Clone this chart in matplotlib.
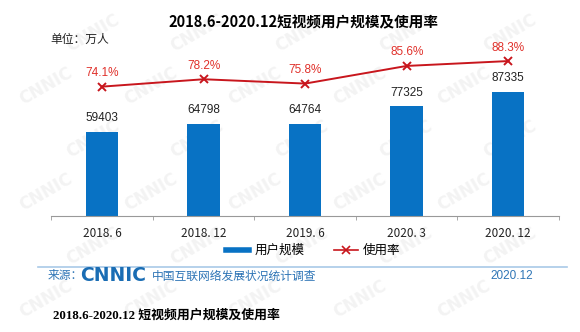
import matplotlib
matplotlib.use('Agg')
import matplotlib.pyplot as plt
from matplotlib.lines import Line2D

plt.rcParams['font.family'] = ['Noto Sans CJK SC', 'DejaVu Sans']

# --- data ---
periods = ['2018. 6', '2018. 12', '2019. 6', '2020. 3', '2020. 12']
users = [59403, 64798, 64764, 77325, 87335]          # 万人
usage_rate = [74.1, 78.2, 75.8, 85.6, 88.3]          # %

title = '2018.6-2020.12短视频用户规模及使用率'
bar_color = '#0872C4'
line_color = '#C8161D'
source_blue = '#2E75B6'

fig = plt.figure(figsize=(5.8, 3.32), dpi=100)
fig.patch.set_facecolor('white')

# faint CNNIC watermark, kept behind everything
for row in range(6):
    for col in range(5):
        fig.text(0.08 + col * 0.18 + (row % 2) * 0.08, 0.1 + row * 0.16, 'CNNIC',
                 color='#f3f3f3', fontsize=12, fontweight='bold', rotation=30,
                 ha='center', va='center', family=['DejaVu Sans'], zorder=-5)

ax = fig.add_axes([0.0885, 0.3503, 0.8753, 0.5292])
ax.patch.set_alpha(0)
x = range(len(periods))
ax.bar(x, users, width=0.32, color=bar_color, zorder=2)
ax.set_ylim(0, 124170)
ax.set_xlim(-0.5, len(periods) - 0.5)
for xi, v in zip(x, users):
    ax.text(xi, v + 5500, str(v), ha='center', va='bottom', fontsize=8.5,
            color='#222222', family=['Liberation Sans', 'DejaVu Sans'])

for side in ['top', 'right', 'left']:
    ax.spines[side].set_visible(False)
ax.spines['bottom'].set_color('#999999')
ax.set_yticks([])
ax.set_xticks([i + 0.5 for i in range(-1, len(periods))], minor=True)
ax.tick_params(axis='x', which='minor', length=3, color='#999999')
ax.tick_params(axis='x', which='major', length=0, pad=8)
ax.set_xticks(list(x))
ax.set_xticklabels(periods, fontsize=8.5, color='#222222')

ax2 = ax.twinx()
ax2.set_ylim(2.4, 100)
ax2.plot(x, usage_rate, color=line_color, lw=1.4, marker='x', ms=6, mew=1.4, zorder=3)
for xi, p in zip(x, usage_rate):
    ax2.text(xi, p + 4.2, f'{p}%', ha='center', va='bottom', fontsize=8.5,
             color='#E0302A', family=['Liberation Sans', 'DejaVu Sans'])
ax2.axis('off')

fig.text(0.524, 0.932, title, ha='center', va='center', fontsize=10.5, fontweight='bold')
fig.text(0.086, 0.882, '单位：万人', ha='left', va='center', fontsize=8.5, color='#222222')

handles = [Line2D([], [], color=bar_color, lw=4),
           Line2D([], [], color=line_color, lw=1.2, marker='x', ms=6, mew=1.2)]
fig.legend(handles, ['用户规模', '使用率'], loc='center', bbox_to_anchor=(0.54, 0.245),
           ncol=2, frameon=False, fontsize=9, handlelength=1.9, columnspacing=2.4,
           handletextpad=0.4)

fig.add_artist(Line2D([0.065, 0.977], [0.197, 0.197], color='#A9C9E8', lw=1.2))
fig.text(0.082, 0.169, '来源：', ha='left', va='center', fontsize=8.5, color=source_blue)
fig.text(0.139, 0.169, 'CNNIC', ha='left', va='center', fontsize=13.5, fontweight='heavy',
         color='#1A6DB4', family=['DejaVu Sans'])
fig.text(0.262, 0.169, '中国互联网络发展状况统计调查', ha='left', va='center', fontsize=8.5,
         color=source_blue)
fig.text(0.919, 0.169, '2020.12', ha='right', va='center', fontsize=8.5, color=source_blue,
         family=['Liberation Sans', 'DejaVu Sans'])

fig.text(0.091, 0.051, '2018.6-2020.12 短视频用户规模及使用率', ha='left', va='center',
         fontsize=9.3, fontweight='bold', family=['Liberation Serif', 'Noto Sans CJK SC'])

fig.savefig('out.png', dpi=100, facecolor='white')
